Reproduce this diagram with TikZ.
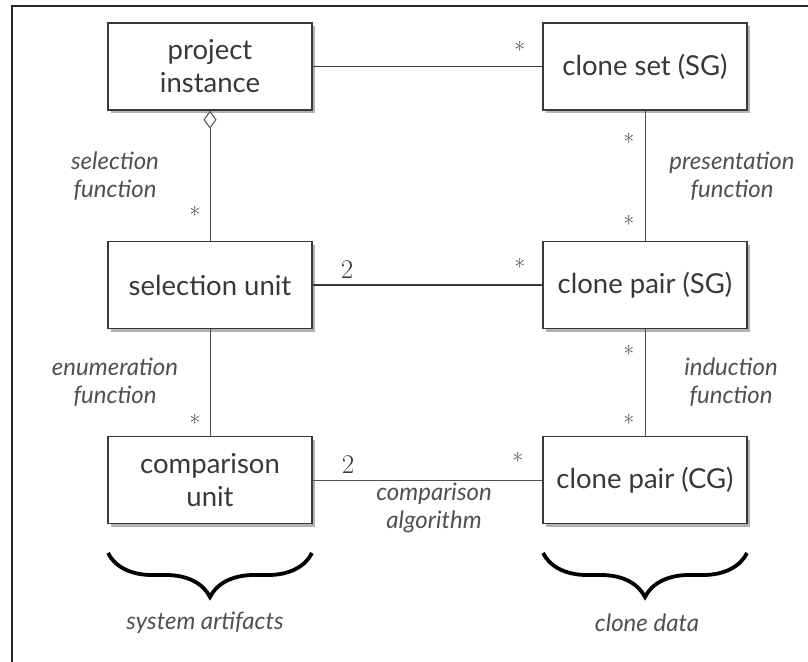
\documentclass[tikz,border=0pt]{standalone}
\usepackage{fontspec}
\newfontfamily\labelfont{Lato}
\usetikzlibrary{arrows.meta,shadows,decorations.pathreplacing}
\definecolor{ink}{HTML}{383838}
\definecolor{soft}{HTML}{505050}
\begin{document}
\begin{tikzpicture}[x=1pt,y=-1pt,
  entity/.style={draw=ink, line width=1.3pt, fill=white,
    minimum width=204pt, minimum height=87pt, align=center, inner sep=0pt,
    font=\labelfont\fontsize{27.5}{33}\selectfont, text=ink,
    drop shadow={shadow xshift=3pt, shadow yshift=-3pt, fill=black, opacity=0.3}},
  role/.style={font=\labelfont\itshape\fontsize{24}{28}\selectfont, text=soft,
    align=center, inner sep=0pt},
  mult/.style={font=\fontsize{23}{23}\selectfont, text=black!80, inner sep=0pt},
  num/.style={font=\fontsize{27}{27}\selectfont, text=ink, inner sep=0pt},
  assoc/.style={draw=ink, line width=1.3pt},
  link/.style={draw=soft, line width=0.9pt},
  grouping/.style={decorate, decoration={brace, mirror, amplitude=44pt, aspect=0.5},
    line width=3.8pt, draw=black}
]
\useasboundingbox (0,0) rectangle (808,661);
% page frame
\draw[line width=2pt, draw=black!85] (12,670) -- (12,6) -- (812,6);

% entities
\node[entity] (pi)  at (210,66.5) {project\\instance};
\node[entity] (su)  at (210,285)  {selection unit};
\node[entity] (cu)  at (210,480)  {comparison\\unit};
\node[entity] (cs)  at (645,66.5) {clone set (SG)};
\node[entity] (cps) at (645,285)  {clone pair (SG)};
\node[entity] (cpc) at (645,480)  {clone pair (CG)};

% associations
\draw[assoc] (pi) -- (cs);
\draw[assoc] (su) -- (cps);
\draw[link] (cu) -- (cpc);
\draw[link, {Diamond[open, length=18pt, width=13pt, line width=1pt]}-] (pi) -- (su);
\draw[link] (su) -- (cu);
\draw[link] (cs) -- (cps);
\draw[link] (cps) -- (cpc);

% multiplicities
\node[mult] (m1) at (520,50)  {*};
\node[mult] (m2) at (195,215) {*};
\node[mult] (m3) at (629,142) {*};
\node[mult] (m4) at (629,224) {*};
\node[mult] (m5) at (520,267) {*};
\node[mult] (m6) at (195,423) {*};
\node[mult] (m7) at (629,354) {*};
\node[mult] (m8) at (629,423) {*};
\node[mult] (m9) at (518,461) {*};
\node[num] (n1) at (347,270) {2};
\node[num] (n2) at (348,465) {2};

% role names
\node[role] (selfn) at (115,176) {selection\\function};
\node[role] (enufn) at (115,382) {enumeration\\function};
\node[role] (prefn) at (732,176) {presentation\\function};
\node[role] (indfn) at (731,382) {induction\\function};
\node[role] (cmpal) at (434,508) {comparison\\algorithm};

% groupings
\draw[grouping] (108,553) -- (312,553);
\draw[grouping] (543,553) -- (747,553);
\node[role] (sysart) at (205,623) {system artifacts};
\node[role] (clndat) at (647,623) {clone data};
\end{tikzpicture}
\end{document}
